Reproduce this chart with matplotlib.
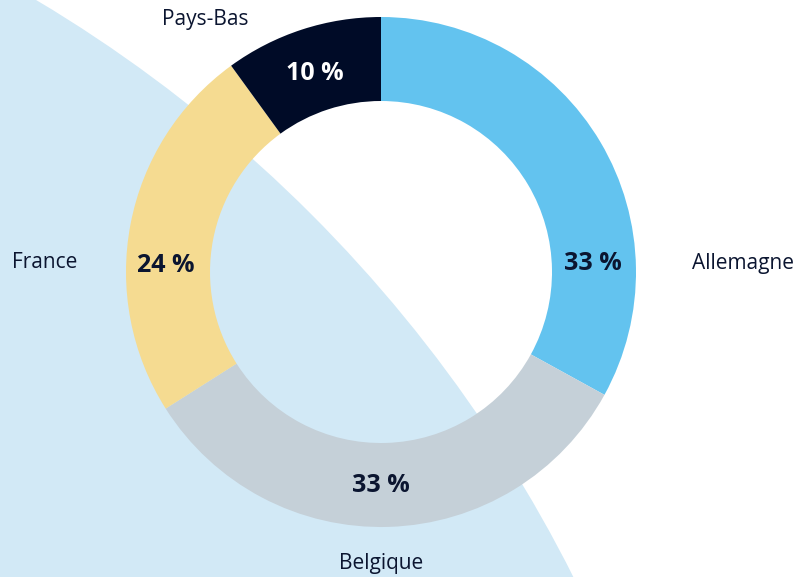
import matplotlib
matplotlib.use("Agg")
import matplotlib.pyplot as plt
from matplotlib.patches import Circle

# data
countries = ["Allemagne", "Belgique", "France", "Pays-Bas"]
shares = [33, 33, 24, 10]

colors = ["#63C3EF", "#C5D0D8", "#F5DB91", "#000B27"]
pct_colors = ["#0B1530", "#0B1530", "#0B1530", "#FFFFFF"]
ink = "#0B1530"

W, H = 798, 577
cx, cy = 381, H - 272
R = 255
ring = 84

# label positions (pixel coords, y from top)
name_pos = [(743, 264), (381, 563), (45, 262), (205, 20)]
pct_pos = [(593, 264), (381, 485), (166, 265), (315, 74)]

plt.rcParams['font.family'] = ['Open Sans', 'DejaVu Sans']

fig = plt.figure(figsize=(W / 100, H / 100), dpi=100)
ax = fig.add_axes([0, 0, 1, 1])

# big pale circle in the background
ax.add_patch(Circle((-686, H - 1211), 1410, color="#D2E9F6", zorder=0, lw=0))

wedges, _ = ax.pie(shares, colors=colors, startangle=90, counterclock=False,
                   center=(cx, cy), radius=R, frame=True,
                   wedgeprops=dict(width=ring, linewidth=0))
for w in wedges:
    w.set_zorder(2)

ax.set_xlim(0, W)
ax.set_ylim(0, H)
ax.set_aspect('equal')
ax.axis('off')

for val, col, (px, py) in zip(shares, pct_colors, pct_pos):
    ax.text(px, H - py, f"{val} %", ha='center', va='center', fontsize=18,
            fontweight='bold', color=col, zorder=3)

for name, (px, py) in zip(countries, name_pos):
    ax.text(px, H - py, name, ha='center', va='center', fontsize=15,
            color=ink, zorder=3)

plt.savefig("out.png", dpi=100)
plt.close()
